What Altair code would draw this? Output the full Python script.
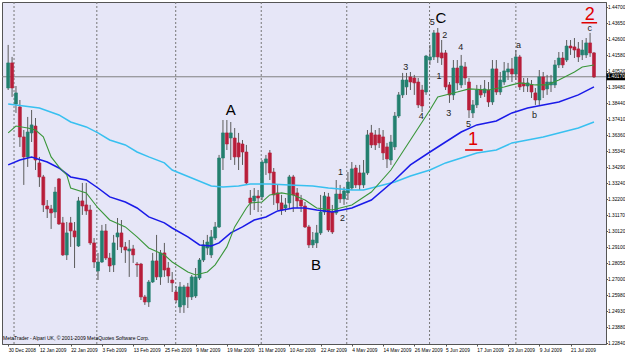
import altair as alt
import pandas as pd

# ---------------- data (EURUSD daily) ----------------
open_ = [
1.3944, 1.4107, 1.3840, 1.3821, 1.3626, 1.3496, 1.3652, 1.3697, 1.3457, 1.3366,
1.3177, 1.3158, 1.3138, 1.3353, 1.3067, 1.2859, 1.3067, 1.3015, 1.2917, 1.3210,
1.3184, 1.3151, 1.2937, 1.2755, 1.2813, 1.3015, 1.2839, 1.2794, 1.2976, 1.3002,
1.2911, 1.2885, 1.2898, 1.2800, 1.2800, 1.2586, 1.2553, 1.2683, 1.2820, 1.2716,
1.2872, 1.2774, 1.2696, 1.2618, 1.2521, 1.2534, 1.2651, 1.2586, 1.2592, 1.2709,
1.2826, 1.2904, 1.2859, 1.2969, 1.3041, 1.3489, 1.3652, 1.3619, 1.3619, 1.3587,
1.3580, 1.3528, 1.3229, 1.3210, 1.3242, 1.3236, 1.3457, 1.3522, 1.3398, 1.3262,
1.3197, 1.3164, 1.3197, 1.3366, 1.3262, 1.3216, 1.3177, 1.3041, 1.2924, 1.2937,
1.3002, 1.3138, 1.3236, 1.3138, 1.3132, 1.3255, 1.3223, 1.3262, 1.3294, 1.3424,
1.3392, 1.3314, 1.3392, 1.3652, 1.3639, 1.3639, 1.3626, 1.3561, 1.3476, 1.3561,
1.3762, 1.3899, 1.3951, 1.4016, 1.4009, 1.3983, 1.3931, 1.3918, 1.4126, 1.4146,
1.4302, 1.4172, 1.4172, 1.3964, 1.3899, 1.4074, 1.3964, 1.4081, 1.3983, 1.3782,
1.3834, 1.3931, 1.3912, 1.3931, 1.3853, 1.4068, 1.3918, 1.3983, 1.4048, 1.4068,
1.4035, 1.4146, 1.3977, 1.3957, 1.3964, 1.3912, 1.3866, 1.4016, 1.3938, 1.3964,
1.3964, 1.4094, 1.4139, 1.4126, 1.4217, 1.4211, 1.4198, 1.4159, 1.4159, 1.4237,
1.4172]
high = [
1.4224, 1.4146, 1.3957, 1.3866, 1.3671, 1.3756, 1.3801, 1.3749, 1.3496, 1.3379,
1.3216, 1.3184, 1.3301, 1.3359, 1.3106, 1.3073, 1.3106, 1.3073, 1.3236, 1.3327,
1.3327, 1.3184, 1.2969, 1.2872, 1.3054, 1.3060, 1.2872, 1.2989, 1.3099, 1.3086,
1.2943, 1.2956, 1.2924, 1.2813, 1.2807, 1.2599, 1.2696, 1.2872, 1.2989, 1.2891,
1.2937, 1.2813, 1.2748, 1.2657, 1.2683, 1.2664, 1.2677, 1.2729, 1.2774, 1.2839,
1.2956, 1.2989, 1.3021, 1.3073, 1.3509, 1.3736, 1.3736, 1.3723, 1.3684, 1.3652,
1.3606, 1.3574, 1.3281, 1.3294, 1.3281, 1.3476, 1.3509, 1.3541, 1.3424, 1.3314,
1.3249, 1.3229, 1.3379, 1.3379, 1.3294, 1.3249, 1.3203, 1.3054, 1.3008, 1.3054,
1.3249, 1.3268, 1.3262, 1.3184, 1.3346, 1.3314, 1.3301, 1.3398, 1.3463, 1.3444,
1.3444, 1.3476, 1.3671, 1.3704, 1.3671, 1.3684, 1.3671, 1.3587, 1.3639, 1.3788,
1.3918, 1.4042, 1.4042, 1.4048, 1.4029, 1.4009, 1.3964, 1.4159, 1.4224, 1.4321,
1.4334, 1.4256, 1.4191, 1.3983, 1.4126, 1.4126, 1.4159, 1.4113, 1.4009, 1.3866,
1.3964, 1.3964, 1.3996, 1.3983, 1.4126, 1.4126, 1.4048, 1.4113, 1.4107, 1.4139,
1.4191, 1.4159, 1.4009, 1.4009, 1.3996, 1.3944, 1.4061, 1.4048, 1.4029, 1.4029,
1.4126, 1.4178, 1.4178, 1.4256, 1.4256, 1.4269, 1.4243, 1.4256, 1.4269, 1.4302,
1.4178]
low = [
1.3931, 1.3886, 1.3782, 1.3561, 1.3314, 1.3431, 1.3593, 1.3411, 1.3301, 1.3138,
1.3099, 1.3028, 1.3099, 1.3054, 1.2852, 1.2826, 1.2911, 1.2774, 1.2911, 1.3119,
1.3119, 1.2924, 1.2774, 1.2696, 1.2807, 1.2826, 1.2748, 1.2748, 1.2891, 1.2872,
1.2807, 1.2716, 1.2807, 1.2716, 1.2566, 1.2534, 1.2521, 1.2677, 1.2696, 1.2664,
1.2716, 1.2677, 1.2618, 1.2547, 1.2482, 1.2482, 1.2514, 1.2566, 1.2579, 1.2696,
1.2813, 1.2859, 1.2839, 1.2956, 1.3034, 1.3411, 1.3541, 1.3476, 1.3444, 1.3411,
1.3444, 1.3314, 1.3119, 1.3151, 1.3138, 1.3216, 1.3379, 1.3346, 1.3184, 1.3151,
1.3119, 1.3138, 1.3164, 1.3138, 1.3164, 1.3138, 1.3034, 1.2904, 1.2904, 1.2904,
1.2989, 1.3119, 1.3008, 1.2995, 1.3119, 1.3197, 1.3184, 1.3216, 1.3281, 1.3294,
1.3281, 1.3294, 1.3379, 1.3554, 1.3541, 1.3554, 1.3476, 1.3424, 1.3444, 1.3541,
1.3749, 1.3879, 1.3899, 1.3931, 1.3899, 1.3814, 1.3788, 1.3899, 1.4094, 1.4126,
1.4107, 1.4094, 1.3931, 1.3847, 1.3866, 1.3931, 1.3944, 1.3964, 1.3749, 1.3749,
1.3814, 1.3879, 1.3886, 1.3821, 1.3834, 1.3899, 1.3899, 1.3964, 1.3996, 1.3983,
1.3996, 1.3931, 1.3918, 1.3918, 1.3879, 1.3834, 1.3834, 1.3879, 1.3899, 1.3918,
1.3944, 1.4074, 1.4074, 1.4113, 1.4159, 1.4139, 1.4113, 1.4126, 1.4139, 1.4146,
1.4009]
close = [
1.4107, 1.3944, 1.3912, 1.3626, 1.3496, 1.3658, 1.3704, 1.3476, 1.3366, 1.3184,
1.3158, 1.3132, 1.3268, 1.3060, 1.2859, 1.3002, 1.3015, 1.2976, 1.3210, 1.3177,
1.3145, 1.2937, 1.2813, 1.2813, 1.3015, 1.2839, 1.2787, 1.2937, 1.3002, 1.2911,
1.2891, 1.2898, 1.2859, 1.2794, 1.2586, 1.2553, 1.2683, 1.2820, 1.2716, 1.2872,
1.2761, 1.2722, 1.2677, 1.2566, 1.2651, 1.2651, 1.2586, 1.2716, 1.2716, 1.2826,
1.2924, 1.2943, 1.2976, 1.3041, 1.3489, 1.3652, 1.3580, 1.3652, 1.3496, 1.3496,
1.3528, 1.3327, 1.3197, 1.3242, 1.3229, 1.3463, 1.3483, 1.3392, 1.3249, 1.3197,
1.3151, 1.3184, 1.3366, 1.3249, 1.3210, 1.3177, 1.3041, 1.2924, 1.2956, 1.3002,
1.3138, 1.3242, 1.3021, 1.3008, 1.3255, 1.3223, 1.3275, 1.3333, 1.3418, 1.3314,
1.3314, 1.3392, 1.3639, 1.3574, 1.3574, 1.3587, 1.3522, 1.3483, 1.3593, 1.3762,
1.3899, 1.3996, 1.3996, 1.3983, 1.3977, 1.3834, 1.3827, 1.4152, 1.4146, 1.4302,
1.4146, 1.4139, 1.3951, 1.3899, 1.4074, 1.3977, 1.4087, 1.4009, 1.3801, 1.3834,
1.3931, 1.3899, 1.3938, 1.3853, 1.4068, 1.3918, 1.3996, 1.4055, 1.4068, 1.4035,
1.4146, 1.3951, 1.3957, 1.3977, 1.3918, 1.3866, 1.4016, 1.3931, 1.3983, 1.3983,
1.4094, 1.4139, 1.4094, 1.4217, 1.4204, 1.4191, 1.4146, 1.4191, 1.4237, 1.4172,
1.4016]

# moving averages (at sample bars)
ma_fast_bar = [0, 2, 5, 7, 9, 11, 13, 15, 16, 20, 23, 26, 30, 33, 36, 40, 42, 46, 48, 51, 53, 56, 58, 61, 62, 65,
               67, 70, 73, 76, 79, 83, 88, 93, 98, 103, 108, 110, 115, 118, 123, 127, 131, 135, 138, 141, 145, 147, 150]
ma_fast_val = [1.3652, 1.3697, 1.3684, 1.3671, 1.3626, 1.3496, 1.3431, 1.3379, 1.3294, 1.3262, 1.3164, 1.3086,
               1.3041, 1.2976, 1.2904, 1.2859, 1.2813, 1.2748, 1.2729, 1.2748, 1.2794, 1.2911, 1.3041, 1.3164,
               1.3197, 1.3203, 1.3249, 1.3262, 1.3249, 1.3216, 1.3164, 1.3151, 1.3184, 1.3268, 1.3411, 1.3606,
               1.3801, 1.3886, 1.3918, 1.3938, 1.3931, 1.3951, 1.3977, 1.3964, 1.3964, 1.3996, 1.4048, 1.4081, 1.4094]
ma_mid_bar = [0, 3, 6, 10, 13, 16, 20, 23, 26, 30, 33, 36, 40, 42, 46, 49, 52, 54, 57, 60, 63, 66, 69, 73, 76, 79,
              83, 88, 93, 99, 103, 108, 112, 116, 120, 125, 129, 133, 137, 141, 146, 150]
ma_mid_val = [1.3444, 1.3476, 1.3496, 1.3463, 1.3424, 1.3366, 1.3346, 1.3294, 1.3236, 1.3203, 1.3164, 1.3106,
              1.3067, 1.3034, 1.2976, 1.2924, 1.2917, 1.2937, 1.3002, 1.3041, 1.3086, 1.3106, 1.3145, 1.3164,
              1.3164, 1.3151, 1.3138, 1.3164, 1.3216, 1.3346, 1.3444, 1.3528, 1.3593, 1.3658, 1.3704, 1.3730,
              1.3782, 1.3814, 1.3834, 1.3853, 1.3899, 1.3951]
ma_slow_bar = [0, 4, 8, 13, 16, 20, 23, 26, 30, 33, 36, 40, 42, 47, 52, 55, 59, 62, 67, 72, 78, 82, 88, 91, 95, 99,
               103, 108, 112, 116, 120, 125, 129, 133, 137, 141, 146, 150]
ma_slow_val = [1.3840, 1.3827, 1.3814, 1.3769, 1.3723, 1.3691, 1.3652, 1.3606, 1.3574, 1.3528, 1.3496, 1.3457,
               1.3411, 1.3359, 1.3307, 1.3301, 1.3307, 1.3320, 1.3320, 1.3314, 1.3307, 1.3294, 1.3281, 1.3281,
               1.3307, 1.3333, 1.3372, 1.3411, 1.3457, 1.3489, 1.3522, 1.3541, 1.3587, 1.3606, 1.3626, 1.3652,
               1.3684, 1.3723]

date_labels = ["30 Dec 2008", "12 Jan 2009", "22 Jan 2009", "3 Feb 2009", "13 Feb 2009", "25 Feb 2009",
               "9 Mar 2009", "19 Mar 2009", "31 Mar 2009", "10 Apr 2009", "22 Apr 2009", "4 May 2009",
               "14 May 2009", "26 May 2009", "5 Jun 2009", "17 Jun 2009", "29 Jun 2009", "9 Jul 2009",
               "21 Jul 2009"]
date_bars = [8 * k for k in range(len(date_labels))]
month_start_bars = [1.5, 22.7, 42.9, 64.8, 86.7, 107.9, 130.0]
price_ticks = [1.44700, 1.43650, 1.42600, 1.41580, 1.40520, 1.39480, 1.38440, 1.37410, 1.36360, 1.35340,
               1.34290, 1.33240, 1.32200, 1.31170, 1.30120, 1.29100, 1.28050, 1.27000, 1.25980, 1.24930,
               1.23880, 1.22840]
bid = 1.4017

big_text = ["A", "B", "C"]
big_bar = [57.0, 78.8, 110.8]
big_price = [1.3801, 1.2794, 1.4399]
wave_text = ["5", "2", "3", "4", "1", "4", "3", "5", "a", "b", "c", "1", "2"]
wave_bar = [108.6, 111.8, 101.8, 115.9, 110.3, 105.8, 112.8, 117.9, 130.7, 134.8, 148.9, 85.1, 85.6]
wave_price = [1.4373, 1.4289, 1.4081, 1.4211, 1.4022, 1.3762, 1.3782, 1.3710, 1.4224, 1.3769, 1.4334,
              1.3398, 1.3099]
red_text = ["1", "2"]
red_bar = [119.0, 148.9]
red_price = [1.3606, 1.4419]
red_line_bar = [117.0, 146.8]
red_line_bar2 = [121.5, 150.8]
red_line_price = [1.3541, 1.4368]

# ---------------- chart ----------------
W, H = 604, 342
UP, DOWN, WICK = "#23806F", "#B81E3A", "#5C5C5C"
BG = "#E6E6F7"
AXFONT = "Liberation Sans"
AXSIZE = 4.8

df = pd.DataFrame({"bar": list(range(len(close))), "open": open_, "high": high,
                   "low": low, "close": close})
df["dir"] = ["up" if c >= o else "down" for o, c in zip(open_, close)]

xscale = alt.Scale(domain=[-0.3, 151.8], nice=False, zero=False)
yscale = alt.Scale(domain=[1.2280, 1.4503], nice=False, zero=False)

label_js = "[" + ",".join("'" + s + "'" for s in date_labels) + "][round(datum.value/8)]"
xaxis = alt.Axis(values=date_bars, labelExpr=label_js, labelAlign="left", labelFontSize=AXSIZE,
                 labelFont=AXFONT, labelColor="#000", labelPadding=1, tickSize=2,
                 tickColor="#555", domainColor="#555", grid=False, title=None, labelOverlap=False,
                 labelFlush=False)
yaxis = alt.Axis(orient="right", values=price_ticks, format=".5f", labelFontSize=AXSIZE,
                 labelFont=AXFONT, labelColor="#000", labelPadding=0, tickSize=1.5,
                 tickColor="#555", domainColor="#555", grid=False, title=None, labelOverlap=False,
                 labelFlush=False)

X = alt.X("bar:Q", scale=xscale, axis=xaxis)
color = alt.Color("dir:N", scale=alt.Scale(domain=["up", "down"], range=[UP, DOWN]), legend=None)

sep = alt.Chart(pd.DataFrame({"bar": month_start_bars})).mark_rule(
    color="#777", strokeDash=[2, 2], strokeWidth=1).encode(x=alt.X("bar:Q", scale=xscale, axis=xaxis))

bidline = alt.Chart(pd.DataFrame({"p": [bid]})).mark_rule(color="#808080", strokeWidth=1).encode(
    y=alt.Y("p:Q", scale=yscale, axis=yaxis))

wicks = alt.Chart(df).mark_rule(color=WICK, strokeWidth=1).encode(
    x=X, y=alt.Y("low:Q", scale=yscale, axis=yaxis), y2="high:Q")
bodies = alt.Chart(df).mark_bar(size=3, strokeWidth=0.6).encode(
    x=X, y=alt.Y("open:Q", scale=yscale, axis=yaxis), y2="close:Q", color=color, stroke=color)


def ma_layer(bars, vals, col, w):
    d = pd.DataFrame({"bar": bars, "v": vals})
    return alt.Chart(d).mark_line(color=col, strokeWidth=w).encode(
        x=alt.X("bar:Q", scale=xscale, axis=xaxis), y=alt.Y("v:Q", scale=yscale, axis=yaxis))


slow = ma_layer(ma_slow_bar, ma_slow_val, "#38C0F0", 1.5)
mid = ma_layer(ma_mid_bar, ma_mid_val, "#1A1AE8", 1.5)
fast = ma_layer(ma_fast_bar, ma_fast_val, "#3A963A", 1.1)

big = alt.Chart(pd.DataFrame({"bar": big_bar, "p": big_price, "t": big_text})).mark_text(
    fontSize=15, font="Liberation Sans", color="#000", baseline="middle").encode(
    x=alt.X("bar:Q", scale=xscale, axis=xaxis), y=alt.Y("p:Q", scale=yscale, axis=yaxis), text="t:N")
waves = alt.Chart(pd.DataFrame({"bar": wave_bar, "p": wave_price, "t": wave_text})).mark_text(
    fontSize=9, font="Liberation Sans", color="#222", baseline="middle").encode(
    x=alt.X("bar:Q", scale=xscale, axis=xaxis), y=alt.Y("p:Q", scale=yscale, axis=yaxis), text="t:N")
reds = alt.Chart(pd.DataFrame({"bar": red_bar, "p": red_price, "t": red_text})).mark_text(
    fontSize=18, font="Liberation Sans", color="#E00000", baseline="middle").encode(
    x=alt.X("bar:Q", scale=xscale, axis=xaxis), y=alt.Y("p:Q", scale=yscale, axis=yaxis), text="t:N")
red_lines = alt.Chart(pd.DataFrame({"b1": red_line_bar, "b2": red_line_bar2, "p": red_line_price})).mark_rule(
    color="#E00000", strokeWidth=1.5).encode(
    x=alt.X("b1:Q", scale=xscale, axis=xaxis), x2="b2:Q", y=alt.Y("p:Q", scale=yscale, axis=yaxis))

tag_df = pd.DataFrame({"p": [bid], "t": [f"{bid:.5f}"]})
tag_box = alt.Chart(tag_df).mark_tick(color="#000", thickness=7, size=19, orient="horizontal",
                                      clip=False, opacity=1).encode(
    x=alt.value(W + 10), y=alt.Y("p:Q", scale=yscale, axis=yaxis))
tag_txt = alt.Chart(tag_df).mark_text(color="#fff", fontSize=AXSIZE, font=AXFONT, align="left",
                                      baseline="middle", clip=False).encode(
    x=alt.value(W + 1.5), y=alt.Y("p:Q", scale=yscale, axis=yaxis), text="t:N")

copyright_txt = alt.Chart(pd.DataFrame({"t": ["MetaTrader - Alpari UK, \u00a9 2001-2009 MetaQuotes Software Corp."]})
                          ).mark_text(fontSize=5, font=AXFONT, color="#000", align="left",
                                      baseline="middle").encode(
    x=alt.value(1), y=alt.value(H - 6), text="t:N")

chart = alt.layer(sep, bidline, wicks, bodies, slow, mid, fast, big, waves, reds, red_lines,
                  tag_box, tag_txt, copyright_txt).properties(
    width=W, height=H, background="#FFFFFF",
    padding={"left": 2, "top": 2, "right": 19, "bottom": 8},
    autosize=alt.AutoSizeParams(type="none"),
).configure_view(fill=BG, stroke="#555", strokeWidth=1)

chart.save("out.html", embed_options={"renderer": "svg", "actions": False})
